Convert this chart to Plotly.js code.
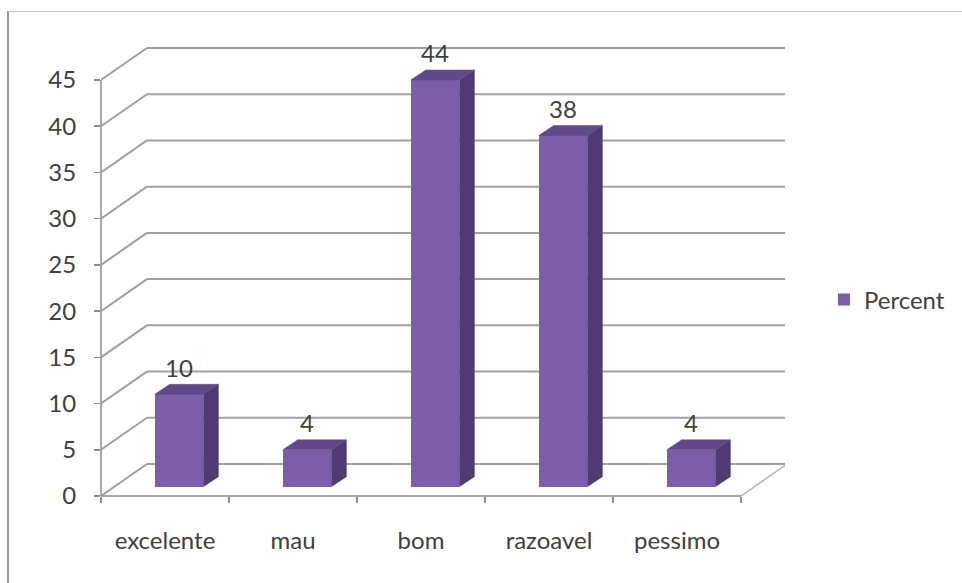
<!DOCTYPE html>
<html>
<head>
<meta charset="utf-8">
<script src="https://cdn.plot.ly/plotly-3.0.1.min.js"></script>
<style>
  html, body { margin: 0; padding: 0; background: #ffffff; }
  #wrap { position: relative; width: 962px; height: 583px; overflow: hidden; }
  #chart { width: 962px; height: 583px; }
  #frame { position: absolute; left: 7px; top: 11px; width: 1000px; height: 700px;
           border-left: 2px solid #9a9a9a; border-top: 1px solid #c4c4c4; pointer-events: none; }
</style>
</head>
<body>
<div id="wrap">
  <div id="chart"></div>
  <div id="frame"></div>
</div>
<script>
// ---- data ----
const categories = ['excelente', 'mau', 'bom', 'razoavel', 'pessimo'];
const percent = [10, 4, 44, 38, 4];
const seriesName = 'Percent';
const yTicks = [0, 5, 10, 15, 20, 25, 30, 35, 40, 45];

// ---- 3D look (style constants, in axis units) ----
const DX = 0.359, DY = 3.46;         // depth of the back wall
const BAR_W = 0.38, BAR_SX = 0.11, BAR_SY = 1.0;  // front face width / set-back
const BAR_DX = 0.117, BAR_DY = 1.08; // bar depth
const XMIN = -0.5, XMAX = -0.5 + 684 / 128;
const nCat = categories.length;
const FRONT = '#7b5ea7', SIDE = '#4f3a72', TOP = '#604889';
const GRID = '#a0a0a0', AXIS = '#8c8c8c';
const FONT = { family: 'Lato, "Open Sans", sans-serif', size: 24, color: '#404040' };

const shapes = [];
yTicks.forEach(v => {
  shapes.push({ type: 'line', xref: 'x', yref: 'y', layer: 'below',
    x0: XMIN, y0: v, x1: XMIN + DX, y1: v + DY, line: { color: GRID, width: 2 } });
  shapes.push({ type: 'line', xref: 'x', yref: 'y', layer: 'below',
    x0: XMIN + DX, y0: v + DY, x1: XMAX, y1: v + DY, line: { color: GRID, width: 2 } });
});
// floor right edge
shapes.push({ type: 'line', xref: 'x', yref: 'y', layer: 'below',
  x0: nCat - 0.5, y0: 0, x1: nCat - 0.5 + DX, y1: DY, line: { color: '#b5b5b5', width: 1.5 } });
// front floor edge (x axis line)
shapes.push({ type: 'line', xref: 'x', yref: 'paper', layer: 'below',
  x0: XMIN, y0: 0, x1: nCat - 0.5, y1: 0, line: { color: AXIS, width: 1.5 } });
// y axis line
shapes.push({ type: 'line', xref: 'paper', yref: 'y', layer: 'below',
  x0: 0, y0: 0, x1: 0, y1: yTicks[yTicks.length - 1], line: { color: AXIS, width: 1.5 } });

const traces = [];
traces.push({
  type: 'bar', name: seriesName,
  x: categories.map((c, i) => i + BAR_SX),
  y: percent, base: BAR_SY, width: BAR_W,
  marker: { color: FRONT, line: { width: 0 } },
  hoverinfo: 'skip', showlegend: true
});
percent.forEach((v, i) => {
  const xl = i + BAR_SX - BAR_W / 2, xr = i + BAR_SX + BAR_W / 2;
  const b = BAR_SY, t = BAR_SY + v;
  traces.push({ type: 'scatter', mode: 'lines', fill: 'toself', fillcolor: SIDE,
    x: [xr, xr + BAR_DX, xr + BAR_DX, xr, xr],
    y: [b, b + BAR_DY, t + BAR_DY, t, b],
    line: { width: 0.5, color: SIDE }, hoverinfo: 'skip', showlegend: false });
  traces.push({ type: 'scatter', mode: 'lines', fill: 'toself', fillcolor: TOP,
    x: [xl, xr, xr + BAR_DX, xl + BAR_DX, xl],
    y: [t, t, t + BAR_DY, t + BAR_DY, t],
    line: { width: 0.5, color: TOP }, hoverinfo: 'skip', showlegend: false });
});

const annotations = percent.map((v, i) => ({
  x: i + BAR_SX, y: BAR_SY + v, xref: 'x', yref: 'y',
  text: String(v), showarrow: false, yanchor: 'middle', yshift: 27, font: FONT
}));

const layout = {
  width: 962, height: 583,
  margin: { l: 101, r: 177, t: 43, b: 87, pad: 0 },
  paper_bgcolor: 'rgba(0,0,0,0)', plot_bgcolor: 'rgba(0,0,0,0)',
  font: FONT,
  showlegend: true,
  legend: { x: 1.057, xanchor: 'left', y: 0.433, yanchor: 'middle',
            font: FONT, bgcolor: 'rgba(0,0,0,0)' },
  hovermode: false,
  bargap: 0,
  xaxis: {
    type: 'linear', range: [XMIN, XMAX], fixedrange: true,
    tickmode: 'array', tickvals: categories.map((c, i) => i), ticktext: categories,
    ticks: '', showgrid: false, zeroline: false, showline: false,
    tickfont: FONT, ticklabelstandoff: 28,
    minor: { tickmode: 'array', tickvals: categories.map((c, i) => i - 0.5).concat([nCat - 0.5]),
             ticks: 'outside', ticklen: 6, tickwidth: 1.5, tickcolor: AXIS, showgrid: false }
  },
  yaxis: {
    range: [0, 49], fixedrange: true,
    tickmode: 'array', tickvals: yTicks,
    ticks: 'outside', ticklen: 6, tickwidth: 1.5, tickcolor: AXIS,
    showgrid: false, zeroline: false, showline: false,
    tickfont: FONT, ticklabelstandoff: 13
  },
  shapes: shapes,
  annotations: annotations
};

Plotly.newPlot('chart', traces, layout, { displayModeBar: false, staticPlot: true });
</script>
</body>
</html>
